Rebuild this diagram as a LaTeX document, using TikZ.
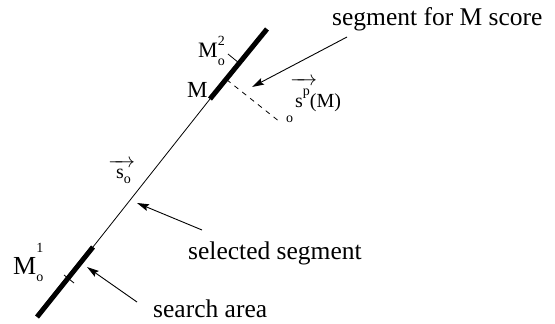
\documentclass[tikz,border=0pt]{standalone}
\usepackage{amsmath}
\usepackage{fontspec}
\setmainfont{Liberation Serif}
\usetikzlibrary{arrows.meta}
\newcommand{\scr}[1]{{\fontsize{14}{14}\selectfont #1}}
\newcommand{\vecbar}[1]{\raisebox{#1}{\makebox[27pt]{\rightarrowfill}}}

\begin{document}
\begin{tikzpicture}[x=1pt, y=-1pt, >={Stealth[length=12pt,width=7pt,inset=2pt]},
    lbl/.style={anchor=base west, inner sep=0pt, font=\fontsize{25.5}{30}\selectfont},
    sym/.style={anchor=base west, inner sep=0pt, font=\fontsize{21}{24}\selectfont},
    thickseg/.style={line width=5pt},
    thinseg/.style={line width=0.8pt},
    pointer/.style={->, line width=0.9pt}]
\useasboundingbox (0,0) rectangle (555,324);
% the direction and its segments
\coordinate (a) at (37,317);
\coordinate (b) at (93,247);
\coordinate (c) at (210,99);
\coordinate (d) at (267,29);
\draw[thickseg] (a)--(b);
\draw[thinseg] (b)--(c);
\draw[thickseg] (c)--(d);
% ticks for M_o^1 and M_o^2
\draw[thinseg] (64,275)--(74,283);
\draw[thinseg] (228,54)--(239,63);
% projection of M
\coordinate (m) at (226.6,79.6);
\coordinate (mp) at (280,122);
\draw[thinseg, dash pattern=on 5pt off 5pt] (m)--(mp);
% labels
\node[lbl] (segtxt) at (332,25) {segment for M score};
\node[lbl] (seltxt) at (188,259) {selected segment};
\node[lbl] (srchtxt) at (153,317) {search area};
\node[sym, font=\fontsize{23}{24}\selectfont] (mlbl) at (187,97) {M};
\node[sym, font=\fontsize{22}{24}\selectfont] (mo2) at (198,57)
    {M\rlap{\raisebox{12pt}{\scr{2}}}\raisebox{-8pt}{\scr{o}}};
\node[sym, font=\fontsize{26}{28}\selectfont] (mo1) at (13,274)
    {M\rlap{\raisebox{22pt}{\scr{1}}}\raisebox{-7pt}{\scr{o}}};
\node[sym, font=\fontsize{20}{24}\selectfont] (sop) at (295,107)
    {\llap{\raisebox{-15pt}{\scr{o}}\hspace{2pt}}\rlap{\hspace{-5pt}\vecbar{22pt}}s\raisebox{12pt}{\scr{p}}(M)};
\node[sym, font=\fontsize{20}{24}\selectfont] (so) at (116,178)
    {\rlap{\hspace{-8pt}\vecbar{11pt}}s\raisebox{-5pt}{\scr{o}}};
% pointers
\coordinate (segtail) at (347,37);
\coordinate (seghead) at (252,87);
\coordinate (seltail) at (202,230);
\coordinate (selhead) at (137,203);
\coordinate (srchtail) at (137,302);
\coordinate (srchhead) at (87,267);
\draw[pointer] (segtail)--(seghead);
\draw[pointer] (seltail)--(selhead);
\draw[pointer] (srchtail)--(srchhead);
\end{tikzpicture}
\end{document}
